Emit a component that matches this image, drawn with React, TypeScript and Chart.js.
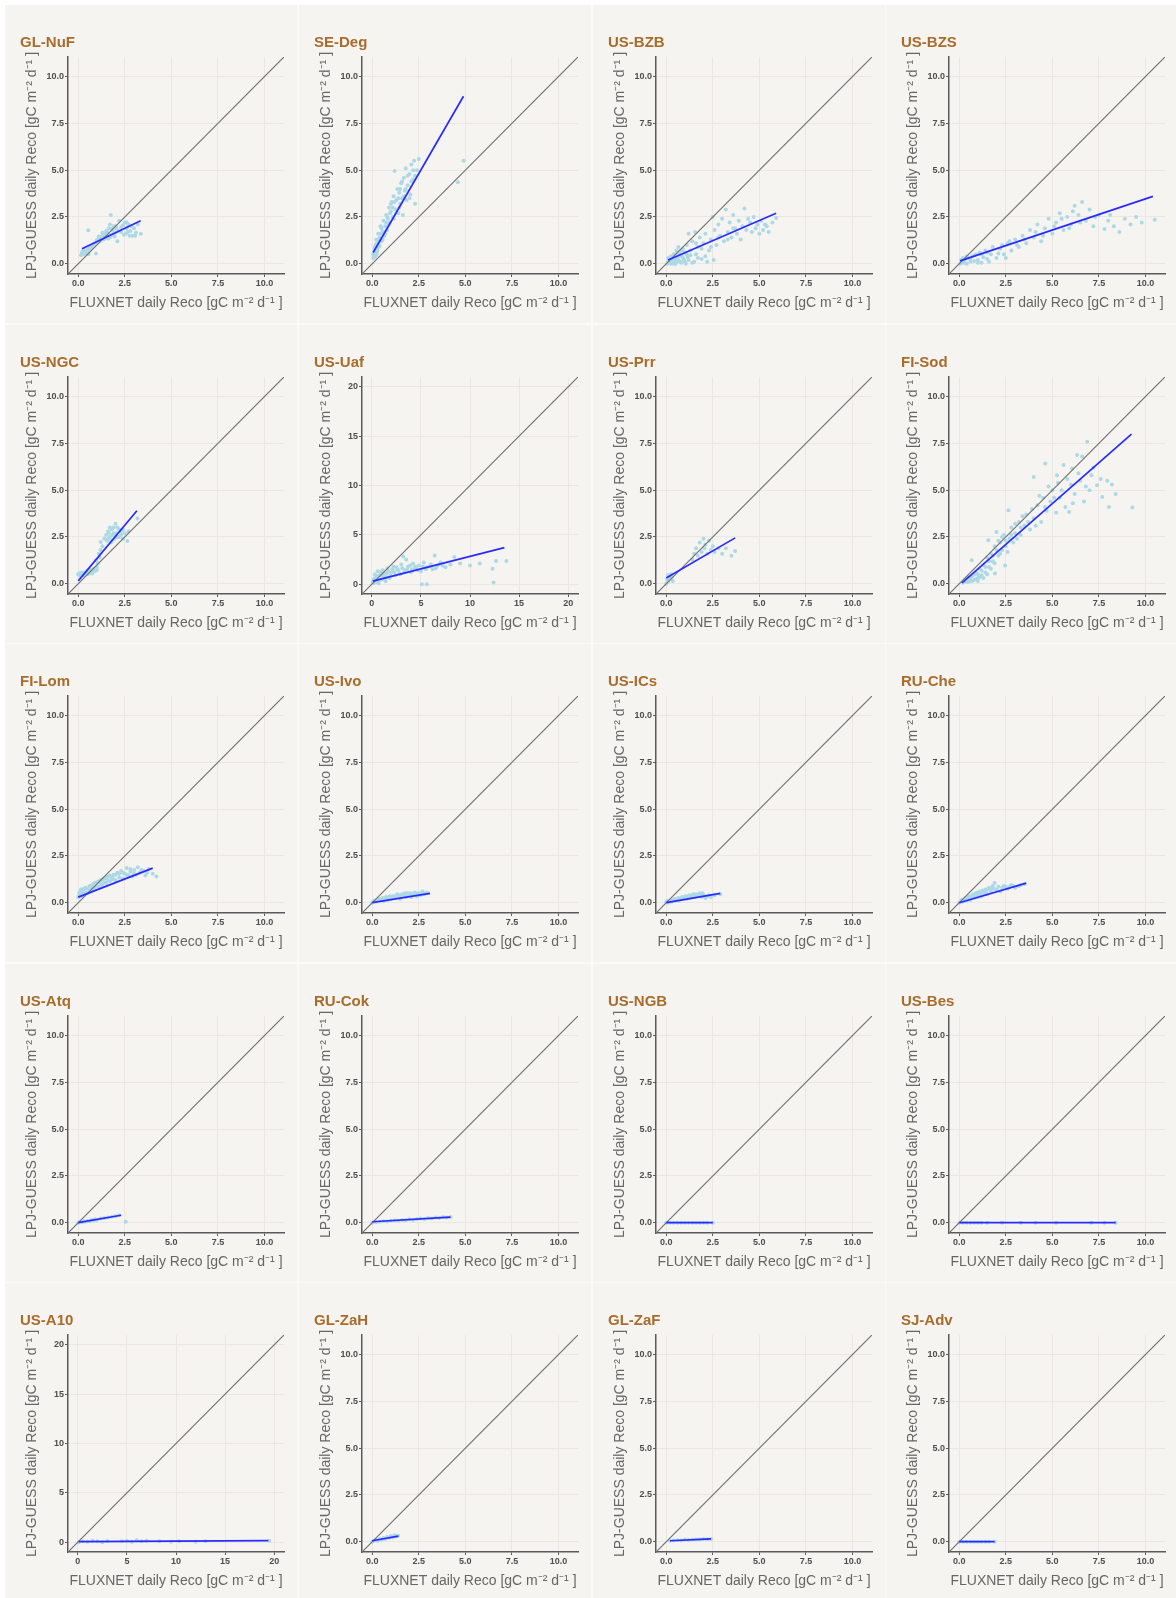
import React, { useEffect, useRef } from "react";
import { Chart, registerables } from "chart.js";

Chart.register(...registerables);

// ---------- data ----------
const SITES = [
  "GL-NuF", "SE-Deg", "US-BZB", "US-BZS",
  "US-NGC", "US-Uaf", "US-Prr", "FI-Sod",
  "FI-Lom", "US-Ivo", "US-ICs", "RU-Che",
  "US-Atq", "RU-Cok", "US-NGB", "US-Bes",
  "US-A10", "GL-ZaH", "GL-ZaF", "SJ-Adv",
];

// sites plotted on the 0-20 scale
const WIDE_SITES = ["US-Uaf", "US-A10"];

const TICKS_10 = [0, 2.5, 5, 7.5, 10];
const TICKS_20 = [0, 5, 10, 15, 20];
const AXIS_10 = [-0.55, 11.05];
const AXIS_20 = [-1.0, 21.0];

// [FLUXNET, LPJ-GUESS] daily Reco pairs
const GL_NuF = [[0.15,0.45],[0.2,0.55],[0.25,0.5],[0.3,0.62],[0.35,0.58],[0.4,0.7],[0.45,0.6],[0.5,0.75],[0.54,1.79],[0.6,0.85],[0.7,0.9],[0.8,1.0],[0.9,1.1],[0.95,0.54],[1.0,1.25],[1.1,1.35],[1.15,1.2],[1.2,1.4],[1.3,1.5],[1.35,1.3],[1.4,1.6],[1.5,1.45],[1.55,1.7],[1.6,1.35],[1.65,1.9],[1.7,2.1],[1.75,2.6],[1.8,1.55],[1.85,1.8],[1.9,2.0],[1.95,1.45],[2.0,1.65],[2.05,1.9],[2.1,1.2],[2.2,2.3],[2.3,1.7],[2.4,2.05],[2.5,2.2],[2.55,1.6],[2.6,1.9],[2.7,2.1],[2.75,1.5],[2.8,1.75],[2.9,1.5],[3.0,1.9],[3.1,1.65],[3.2,2.1],[3.36,1.6],
  [0.2,0.6],[0.25,0.65],[0.3,0.5],[0.35,0.7],[0.45,0.55],[0.5,0.65],[0.55,0.5],[0.65,0.8],[0.75,0.95],[0.85,1.05],[1.05,1.15],[1.1,1.45],[1.25,1.3],[1.3,1.65],[1.45,1.35],[1.5,1.75],[1.6,1.55],[1.7,1.4],[1.8,1.85],[1.9,1.6],[2.0,2.0],[2.15,1.75],[2.3,1.95],[2.45,1.55],[2.6,2.2],[2.65,1.7],[2.85,2.0],[3.05,1.5]];
const SE_Deg = [[0.05,0.3],[0.08,0.45],[0.1,0.6],[0.12,0.8],[0.15,0.4],[0.18,1.0],[0.2,0.7],[0.22,1.3],[0.25,0.55],[0.3,1.1],[0.32,1.6],[0.35,0.9],[0.4,1.4],[0.45,2.0],[0.5,1.2],[0.55,1.7],[0.6,2.3],[0.65,1.5],[0.7,2.0],[0.75,2.6],[0.8,1.8],[0.85,2.4],[0.9,3.0],[0.95,2.2],[1.0,2.8],[1.05,3.3],[1.1,2.5],[1.15,3.6],[1.2,4.96],[1.25,2.9],[1.3,3.4],[1.35,4.0],[1.4,2.7],[1.45,3.8],[1.5,3.2],[1.55,4.3],[1.6,3.5],[1.65,2.6],[1.7,4.6],[1.75,3.9],[1.8,5.1],[1.85,3.4],[1.9,4.2],[2.0,4.8],[2.05,3.7],[2.1,5.3],[2.2,4.5],[2.3,3.2],[2.4,5.0],[2.5,5.6],[2.25,5.5],[4.6,4.35],[4.9,5.5],
  [0.05,0.5],[0.1,0.35],[0.12,0.5],[0.15,0.9],[0.2,0.45],[0.25,1.1],[0.28,0.7],[0.35,1.3],[0.4,0.95],[0.45,1.6],[0.5,1.9],[0.55,1.3],[0.6,1.7],[0.7,1.6],[0.75,2.2],[0.8,2.5],[0.9,2.1],[0.95,2.7],[1.0,3.2],[1.1,3.0],[1.15,2.4],[1.2,3.3],[1.3,2.7],[1.4,3.5],[1.45,3.0],[1.5,4.0],[1.6,4.4],[1.7,3.6],[1.8,4.0],[1.9,4.7],[2.0,3.5],[2.1,4.4],[2.2,5.0],[2.3,4.7]];
const US_BZB = [[0.05,0.0],[0.1,0.1],[0.15,0.05],[0.2,0.2],[0.25,0.0],[0.3,0.3],[0.35,0.1],[0.4,0.5],[0.45,0.2],[0.5,0.0],[0.55,0.7],[0.6,0.3],[0.65,0.9],[0.7,0.15],[0.75,0.5],[0.8,0.05],[0.85,0.4],[0.9,0.8],[0.95,0.2],[1.0,0.6],[1.05,0.0],[1.1,1.0],[1.15,0.35],[1.2,1.6],[1.3,0.7],[1.4,1.2],[1.5,0.1],[1.55,1.7],[1.6,0.5],[1.7,0.9],[1.8,1.4],[1.9,0.25],[2.0,1.1],[2.1,1.6],[2.2,0.1],[2.3,0.7],[2.4,1.3],[2.5,2.5],[2.55,0.2],[2.6,1.8],[2.7,1.0],[2.8,2.1],[2.9,1.5],[3.0,2.4],[3.1,1.2],[3.2,2.9],[3.3,1.7],[3.4,2.2],[3.5,1.4],[3.6,2.6],[3.7,1.9],[3.8,1.6],[3.9,2.3],[4.0,1.3],[4.2,2.95],[4.3,1.8],[4.5,2.2],[4.6,1.7],[4.7,2.5],[4.8,1.9],[4.9,2.1],[5.0,1.6],[5.1,2.3],[5.2,1.8],[5.4,2.0],[5.5,1.7],[5.7,2.2],[5.9,2.45],
  [0.1,0.3],[0.2,0.05],[0.25,0.4],[0.3,0.1],[0.35,0.25],[0.4,0.0],[0.45,0.45],[0.5,0.2],[0.55,0.1],[0.6,0.6],[0.7,0.4],[0.75,0.1],[0.8,0.7],[0.9,0.3],[1.0,0.1],[1.1,0.5],[1.2,0.2],[1.3,0.45],[1.4,0.05],[1.6,1.1],[1.7,0.3],[1.9,0.8],[2.1,0.4],[2.4,0.9],[2.8,1.4],[3.3,1.3],[3.6,1.9],[4.1,2.0],[4.4,2.4],[5.3,2.1]];
const US_BZS = [[0.05,0.0],[0.1,0.1],[0.2,0.05],[0.3,0.2],[0.4,0.0],[0.5,0.3],[0.6,0.1],[0.7,0.4],[0.8,0.15],[0.9,0.5],[1.0,0.2],[1.1,0.6],[1.2,0.05],[1.3,0.35],[1.4,0.7],[1.5,0.25],[1.7,0.5],[1.8,0.9],[2.0,0.3],[2.2,0.8],[2.4,0.5],[2.6,1.1],[2.8,0.7],[3.0,1.3],[3.2,0.9],[3.4,1.5],[3.6,1.1],[3.8,1.8],[4.0,1.4],[4.2,2.1],[4.4,1.2],[4.6,1.9],[4.8,2.4],[5.0,1.6],[5.2,2.2],[5.4,2.7],[5.6,1.8],[5.8,2.5],[6.0,2.1],[6.2,3.1],[6.4,2.6],[6.6,3.3],[6.8,2.3],[7.0,2.9],[7.2,2.0],[7.5,2.6],[7.8,1.85],[8.0,2.3],[8.3,2.0],[8.6,1.7],[8.9,2.4],[9.2,2.1],[9.5,2.5],[10.5,2.35],
  [0.1,0.2],[0.2,0.3],[0.3,0.05],[0.4,0.4],[0.6,0.25],[0.8,0.45],[1.0,0.05],[1.2,0.5],[1.5,0.6],[1.6,0.1],[2.1,0.55],[2.3,1.0],[2.5,0.3],[2.7,1.2],[3.1,1.0],[3.5,1.3],[4.1,1.7],[4.5,1.5],[5.1,2.0],[5.5,2.4],[5.9,1.9],[6.1,2.8],[6.5,2.2],[7.3,2.5],[8.1,2.6],[9.8,2.2]];
const US_NGC = [[0.0,0.5],[0.05,0.45],[0.1,0.55],[0.15,0.4],[0.2,0.6],[0.25,0.5],[0.3,0.55],[0.4,0.6],[0.5,0.5],[0.55,0.65],[0.6,0.6],[0.7,0.7],[0.75,0.55],[0.8,0.75],[0.85,0.65],[0.9,0.8],[0.95,0.7],[1.0,0.9],[0.95,1.25],[1.05,1.1],[1.1,1.6],[1.15,1.4],[1.2,1.8],[1.21,2.23],[1.3,2.0],[1.4,2.4],[1.5,2.6],[1.55,2.3],[1.6,2.8],[1.7,2.5],[1.75,2.2],[1.8,2.9],[1.85,2.6],[1.9,3.0],[1.95,2.4],[2.0,3.2],[2.05,2.7],[2.1,2.5],[2.2,2.9],[2.3,2.6],[2.4,2.4],[2.5,2.7],[2.64,2.28],[2.7,2.8],[3.18,3.48],
  [0.05,0.55],[0.1,0.45],[0.2,0.5],[0.3,0.45],[0.35,0.6],[0.45,0.55],[0.5,0.7],[0.6,0.55],[0.65,0.75],[0.7,0.6],[0.8,0.65],[0.85,0.8],[0.9,0.7],[1.0,0.75],[1.6,2.4],[1.65,2.7],[1.7,3.0],[1.8,2.3],[1.9,2.7],[2.0,2.5],[2.1,3.0],[2.2,2.5],[2.3,2.8],[2.4,2.9]];
const US_Uaf = [[0.1,0.2],[0.2,0.5],[0.3,1.0],[0.4,0.3],[0.5,0.7],[0.6,1.3],[0.7,0.1],[0.8,0.9],[1.0,0.5],[1.1,1.4],[1.2,0.8],[1.4,0.3],[1.5,1.1],[1.6,1.6],[1.8,0.6],[2.0,1.2],[2.2,1.8],[2.4,0.9],[2.6,1.5],[2.8,1.1],[3.0,2.0],[3.2,2.8],[3.4,1.4],[3.5,2.5],[3.7,1.8],[4.0,1.2],[4.2,2.1],[4.5,1.6],[4.8,1.9],[5.0,1.3],[5.1,0.0],[5.3,2.2],[5.6,0.0],[5.6,1.7],[6.0,2.0],[6.2,1.5],[6.4,2.9],[6.7,1.9],[7.0,2.2],[7.5,1.7],[8.0,2.0],[8.4,2.75],[9.0,2.1],[10.0,1.9],[11.0,2.1],[12.3,1.55],[12.4,0.17],[12.65,2.35],[13.7,2.35],
  [0.2,0.1],[0.3,0.6],[0.5,0.2],[0.6,0.8],[0.8,0.4],[0.9,1.2],[1.0,0.9],[1.2,1.1],[1.3,0.5],[1.5,0.7],[1.7,1.3],[1.9,0.9],[2.1,1.5],[2.3,1.2],[2.5,1.7],[2.7,1.4],[2.9,1.0],[3.1,1.6],[3.3,1.2],[3.6,1.5],[3.9,1.9],[4.1,1.5],[4.4,1.8],[4.7,1.4],[5.2,1.8],[5.5,1.5],[5.9,1.8],[6.5,1.6],[7.2,1.9]];
const US_Prr = [[0.0,0.0],[0.05,0.2],[0.1,0.1],[0.15,0.4],[0.2,0.25],[0.25,0.5],[0.3,0.35],[0.1,0.45],[0.35,0.15],[1.4,1.3],[1.5,1.6],[1.6,1.9],[1.7,1.5],[1.8,2.2],[1.9,1.7],[2.0,2.4],[2.05,1.9],[2.1,2.1],[2.2,1.6],[2.3,2.3],[2.4,1.8],[2.5,2.0],[2.6,1.7],[2.8,1.9],[3.0,1.6],[3.2,1.9],[3.5,1.5],[3.7,1.75]];
const FI_Sod = [[0.2,0.05],[0.3,0.2],[0.4,0.1],[0.5,0.35],[0.6,0.15],[0.67,1.25],[0.7,0.4],[0.8,0.2],[0.9,0.6],[1.0,0.3],[1.1,0.8],[1.2,0.45],[1.3,1.0],[1.4,0.6],[1.5,1.4],[1.56,2.32],[1.6,0.9],[1.7,1.6],[1.8,1.2],[1.9,2.0],[1.92,0.54],[2.0,2.77],[2.1,1.5],[2.2,2.2],[2.3,1.8],[2.4,2.6],[2.46,0.98],[2.5,2.0],[2.64,3.93],[2.7,2.4],[2.8,3.0],[2.9,2.2],[3.0,2.7],[3.2,3.3],[3.3,2.6],[3.5,3.1],[3.6,3.7],[3.8,2.9],[4.0,5.7],[4.0,3.5],[4.2,4.2],[4.4,3.3],[4.5,4.6],[4.62,6.43],[4.7,3.9],[4.9,4.4],[5.0,5.0],[5.2,3.8],[5.25,5.8],[5.4,4.6],[5.6,6.34],[5.7,4.1],[5.9,3.84],[6.0,5.3],[6.06,6.16],[6.2,4.8],[6.33,6.88],[6.5,5.5],[6.6,6.8],[6.7,4.4],[6.87,7.59],[7.0,5.0],[7.2,6.2],[7.4,5.27],[7.68,4.64],[7.95,5.5],[8.04,4.1],[8.4,4.8],[9.3,4.07],
  [0.3,0.1],[0.4,0.3],[0.5,0.1],[0.6,0.3],[0.7,0.15],[0.8,0.5],[0.9,0.25],[1.0,0.5],[1.0,0.15],[1.1,0.35],[1.2,0.7],[1.3,0.3],[1.4,0.9],[1.5,0.5],[1.6,1.2],[1.7,0.8],[1.8,1.5],[1.9,1.1],[2.0,1.8],[2.1,2.3],[2.2,1.6],[2.3,2.5],[2.5,2.3],[2.6,1.7],[2.8,2.6],[3.0,3.2],[3.1,2.4],[3.3,3.0],[3.4,3.6],[3.7,3.3],[3.9,4.0],[4.1,3.1],[4.3,4.7],[4.6,4.1],[4.8,5.2],[5.1,4.6],[5.3,5.4],[5.5,5.0],[5.8,5.6],[6.1,4.3],[6.4,5.9],[6.8,5.2],[7.1,5.8],[7.6,5.6],[8.2,5.3]];
const FI_Lom = [[0.0,0.3],[0.05,0.5],[0.1,0.4],[0.15,0.7],[0.2,0.35],[0.3,0.6],[0.4,0.8],[0.5,0.5],[0.6,0.9],[0.7,0.7],[0.8,1.0],[0.9,0.75],[1.0,1.1],[1.1,0.85],[1.2,1.2],[1.3,0.95],[1.4,1.3],[1.5,1.05],[1.6,1.4],[1.7,1.15],[1.8,1.25],[1.9,1.5],[2.0,1.2],[2.1,1.6],[2.2,1.35],[2.3,1.7],[2.4,1.3],[2.5,1.55],[2.6,1.85],[2.7,1.45],[2.8,1.65],[2.9,1.4],[3.0,1.75],[3.1,1.5],[3.2,1.9],[3.3,1.6],[3.5,1.7],[3.6,1.45],[3.8,1.8],[4.0,1.55],[4.2,1.4],
  [0.05,0.35],[0.1,0.6],[0.2,0.5],[0.25,0.45],[0.3,0.75],[0.4,0.55],[0.5,0.75],[0.6,0.65],[0.7,0.9],[0.8,0.8],[0.9,1.05],[1.0,0.9],[1.1,1.15],[1.2,1.0],[1.3,1.25],[1.4,1.1],[1.5,1.35],[1.6,1.2],[1.7,1.45],[1.8,1.4],[1.9,1.25],[2.0,1.5],[2.2,1.55],[2.4,1.6],[2.6,1.5],[2.8,1.8],[3.0,1.55],[3.4,1.75],[3.7,1.6]];
const US_Ivo = [[0.0,0.0],[0.1,0.1],[0.2,0.05],[0.3,0.15],[0.4,0.1],[0.5,0.2],[0.6,0.08],[0.7,0.25],[0.8,0.15],[0.9,0.3],[1.0,0.2],[1.1,0.35],[1.2,0.25],[1.3,0.4],[1.4,0.3],[1.5,0.2],[1.6,0.45],[1.7,0.35],[1.8,0.3],[1.9,0.5],[2.0,0.4],[2.1,0.3],[2.2,0.45],[2.3,0.55],[2.4,0.35],[2.5,0.5],[2.6,0.4],[2.7,0.6],[2.8,0.45],[3.0,0.5],
  [0.05,0.05],[0.15,0.12],[0.25,0.1],[0.35,0.2],[0.45,0.15],[0.55,0.25],[0.65,0.2],[0.75,0.3],[0.85,0.25],[0.95,0.35],[1.05,0.3],[1.15,0.25],[1.25,0.35],[1.35,0.45],[1.45,0.4],[1.55,0.35],[1.65,0.4],[1.75,0.5],[1.85,0.4],[1.95,0.45],[2.05,0.5],[2.15,0.4],[2.25,0.5],[2.45,0.45],[2.65,0.5],[2.9,0.55]];
const US_ICs = [[0.0,0.05],[0.1,0.0],[0.2,0.1],[0.3,0.05],[0.4,0.15],[0.5,0.1],[0.6,0.2],[0.7,0.12],[0.8,0.25],[0.9,0.18],[1.0,0.3],[1.1,0.2],[1.2,0.35],[1.3,0.25],[1.4,0.4],[1.5,0.3],[1.6,0.45],[1.7,0.35],[1.8,0.5],[1.9,0.3],[2.0,0.4],[2.1,0.25],[2.2,0.35],[2.4,0.3],[2.6,0.4],[2.9,0.45],
  [0.05,0.1],[0.15,0.05],[0.25,0.15],[0.35,0.1],[0.45,0.2],[0.55,0.15],[0.65,0.25],[0.75,0.2],[0.85,0.3],[0.95,0.25],[1.05,0.35],[1.15,0.3],[1.25,0.4],[1.35,0.3],[1.45,0.45],[1.55,0.35],[1.65,0.4],[1.75,0.45],[1.85,0.4],[1.95,0.5],[2.05,0.35],[2.3,0.4]];
const RU_Che = [[0.0,0.0],[0.1,0.1],[0.2,0.05],[0.3,0.2],[0.4,0.1],[0.5,0.3],[0.6,0.15],[0.7,0.4],[0.8,0.25],[0.9,0.5],[1.0,0.3],[1.1,0.6],[1.2,0.35],[1.3,0.55],[1.4,0.7],[1.5,0.45],[1.6,0.8],[1.7,0.6],[1.8,0.9],[1.9,1.05],[2.0,0.7],[2.1,0.85],[2.2,0.6],[2.4,0.9],[2.6,0.75],[2.8,0.95],[3.0,0.8],[3.2,0.9],[3.5,1.0],
  [0.05,0.05],[0.15,0.15],[0.25,0.1],[0.35,0.25],[0.45,0.2],[0.55,0.35],[0.65,0.3],[0.75,0.45],[0.85,0.4],[0.95,0.55],[1.05,0.45],[1.15,0.5],[1.25,0.65],[1.35,0.5],[1.45,0.6],[1.55,0.75],[1.65,0.7],[1.75,0.8],[1.85,0.75],[2.3,0.8],[2.5,0.85],[2.7,0.85],[2.9,0.9],[3.3,0.95]];
const US_Atq = [[0.0,0.0],[0.1,0.05],[0.2,0.02],[0.3,0.08],[0.4,0.05],[0.5,0.1],[0.6,0.08],[0.7,0.15],[0.8,0.12],[0.9,0.18],[1.0,0.15],[1.2,0.22],[1.4,0.25],[1.6,0.28],[1.8,0.32],[2.0,0.35],[2.2,0.4],[2.55,0.05]];
const RU_Cok = [[0.0,0.0],[0.2,0.03],[0.4,0.05],[0.6,0.08],[0.8,0.06],[1.0,0.1],[1.2,0.12],[1.4,0.1],[1.6,0.15],[1.8,0.13],[2.0,0.18],[2.2,0.15],[2.4,0.2],[2.6,0.22],[2.8,0.2],[3.0,0.25],[3.2,0.22],[3.4,0.28],[3.6,0.25],[3.8,0.3],[4.0,0.28],[4.2,0.3]];
const US_NGB = [[0.0,0],[0.2,0],[0.4,0],[0.6,0],[0.8,0],[1.0,0],[1.2,0],[1.4,0],[1.6,0],[1.8,0],[2.0,0],[2.2,0],[2.5,0]];
const US_Bes = [[0.0,0],[0.2,0],[0.4,0],[0.6,0],[0.8,0],[1.0,0],[1.2,0],[1.5,0],[2.3,0],[3.3,0],[4.1,0],[5.2,0],[7.1,0],[7.8,0],[8.4,0]];
const US_A10 = [[0.1,0.0],[0.5,0.1],[1.0,0.05],[1.5,0.15],[2.0,0.1],[2.5,0.0],[3.0,0.12],[4.5,0.1],[5.0,0.15],[5.5,0.05],[6.0,0.2],[6.5,0.1],[7.0,0.15],[8.3,0.1],[9.5,0.05],[10.3,0.1],[12.0,0.05],[13.0,0.1],[19.5,0.15]];
const GL_ZaH = [[0.0,0.0],[0.1,0.05],[0.2,0.1],[0.3,0.05],[0.4,0.15],[0.5,0.1],[0.6,0.2],[0.7,0.15],[0.8,0.25],[0.9,0.2],[1.0,0.3],[1.1,0.22],[1.2,0.35],[1.3,0.28],[1.4,0.32]];
const GL_ZaF = [[0.2,0.05],[0.4,0.06],[0.6,0.08],[0.8,0.07],[1.0,0.1],[1.2,0.09],[1.4,0.11],[1.6,0.12],[1.8,0.12],[2.0,0.14],[2.2,0.13],[2.4,0.15]];
const SJ_Adv = [[0.0,0],[0.2,0],[0.4,0],[0.6,0],[0.8,0],[1.0,0],[1.2,0],[1.4,0],[1.6,0],[1.9,0]];

const SITE_POINTS = [
  GL_NuF, SE_Deg, US_BZB, US_BZS,
  US_NGC, US_Uaf, US_Prr, FI_Sod,
  FI_Lom, US_Ivo, US_ICs, RU_Che,
  US_Atq, RU_Cok, US_NGB, US_Bes,
  US_A10, GL_ZaH, GL_ZaF, SJ_Adv,
];

// linear fit segment per site: [x0, y0, x1, y1]
const FIT_LINES = [
  [0.2, 0.8, 3.35, 2.3], [0.05, 0.6, 4.9, 8.95], [0.1, 0.2, 5.9, 2.7], [0.05, 0.15, 10.4, 3.6],
  [0.0, 0.15, 3.15, 3.9], [0.1, 0.3, 13.5, 3.7], [0.0, 0.3, 3.7, 2.45], [0.15, 0.05, 9.25, 8.0],
  [0.0, 0.3, 4.0, 1.85], [0.0, 0.0, 3.1, 0.5], [0.0, 0.0, 2.9, 0.5], [0.0, 0.0, 3.6, 1.05],
  [0.0, 0.0, 2.3, 0.4], [0.0, 0.05, 4.2, 0.3], [0.0, 0.0, 2.5, 0.0], [0.0, 0.0, 8.4, 0.0],
  [0.1, 0.05, 19.4, 0.15], [0.0, 0.05, 1.4, 0.3], [0.2, 0.05, 2.4, 0.15], [0.0, 0.0, 1.9, 0.0],
];

const X_TITLE = "FLUXNET daily Reco [gC m\u207B\u00B2 d\u207B\u00B9 ]";
const Y_TITLE = "LPJ-GUESS daily Reco [gC m\u207B\u00B2 d\u207B\u00B9 ]";

// ---------- layout/style ----------
const FONT = "'Liberation Sans', Arial, Helvetica, sans-serif";
const CELL_W = 292;
const CELL_H = 318;
const PITCH_X = 293.8;
const PITCH_Y = 319.5;
const OFFSET = 5;
const PANEL_BG = "#f6f4f0";

function Panel({ index }: { index: number }) {
  const ref = useRef<HTMLCanvasElement | null>(null);
  const site = SITES[index];
  const col = index % 4;
  const row = Math.floor(index / 4);
  const left = Math.round(OFFSET + col * PITCH_X);
  const top = Math.round(OFFSET + row * PITCH_Y);

  useEffect(() => {
    if (!ref.current) return;
    const wide = WIDE_SITES.includes(site);
    const range = wide ? AXIS_20 : AXIS_10;
    const ticks = wide ? TICKS_20 : TICKS_10;
    const fmt = (v: number) => (wide ? String(v) : v.toFixed(1));
    const fit = FIT_LINES[index];
    const pts = SITE_POINTS[index];

    const axisColor = "#5a5a5a";
    const gridColor = "#ebe8e3";
    const tickFont = { family: FONT, size: 9, weight: "bold" as const };
    const titleFont = { family: FONT, size: 14 };

    const chart = new Chart(ref.current, {
      type: "scatter",
      data: {
        datasets: [
          {
            data: pts.map(([x, y]) => ({ x, y })),
            backgroundColor: "#add8e6",
            borderWidth: 0,
            pointRadius: 2,
            order: 2,
          },
          {
            data: [
              { x: range[0], y: range[0] },
              { x: range[1], y: range[1] },
            ],
            showLine: true,
            borderColor: "#737373",
            borderWidth: 1.2,
            pointRadius: 0,
            order: 1,
          },
          {
            data: [
              { x: fit[0], y: fit[1] },
              { x: fit[2], y: fit[3] },
            ],
            showLine: true,
            borderColor: "#2a2aff",
            borderWidth: 1.7,
            pointRadius: 0,
            order: 0,
          },
        ],
      },
      options: {
        animation: false,
        responsive: false,
        events: [],
        layout: { padding: { left: 15, right: 13, top: 0, bottom: 11 } },
        plugins: {
          legend: { display: false },
          tooltip: { enabled: false },
          title: {
            display: true,
            text: site,
            align: "start",
            color: "#a86c2c",
            font: { family: FONT, size: 15, weight: "bold" },
            padding: { top: 29, bottom: 5 },
          },
        },
        scales: {
          x: {
            type: "linear",
            min: range[0],
            max: range[1],
            afterBuildTicks: (s: any) => {
              s.ticks = ticks.map((v) => ({ value: v }));
            },
            afterFit: (s: any) => {
              s.height = 38;
            },
            ticks: {
              callback: (v: any) => fmt(Number(v)),
              font: tickFont,
              color: "#4d4d4d",
              padding: 1,
              maxRotation: 0,
              autoSkip: false,
            },
            grid: { color: gridColor, lineWidth: 1, tickColor: axisColor, tickLength: 3, drawTicks: true },
            border: { display: true, color: axisColor, width: 1.5 },
            title: {
              display: true,
              text: X_TITLE,
              color: "#666666",
              font: titleFont,
              padding: { top: 0, bottom: 0 },
            },
          },
          y: {
            type: "linear",
            min: range[0],
            max: range[1],
            afterBuildTicks: (s: any) => {
              s.ticks = ticks.map((v) => ({ value: v }));
            },
            afterFit: (s: any) => {
              s.width = 48;
            },
            ticks: {
              callback: (v: any) => fmt(Number(v)),
              font: tickFont,
              color: "#4d4d4d",
              padding: 1,
              autoSkip: false,
            },
            grid: { color: gridColor, lineWidth: 1, tickColor: axisColor, tickLength: 3, drawTicks: true },
            border: { display: true, color: axisColor, width: 1.5 },
            title: {
              display: true,
              text: Y_TITLE,
              color: "#666666",
              font: titleFont,
              padding: { top: 4, bottom: 0 },
            },
          },
        },
      },
    } as any);
    return () => chart.destroy();
  }, [index, site]);

  return (
    <div
      style={{
        position: "absolute",
        left,
        top,
        width: CELL_W,
        height: CELL_H,
        background: PANEL_BG,
      }}
    >
      <canvas ref={ref} width={CELL_W} height={CELL_H} style={{ display: "block", width: CELL_W, height: CELL_H }} />
    </div>
  );
}

export default function App() {
  return (
    <div
      style={{
        position: "absolute",
        left: 0,
        top: 0,
        width: 1176,
        height: 1598,
        overflow: "hidden",
        background: "#ffffff",
      }}
    >
      <div
        style={{
          position: "absolute",
          left: OFFSET,
          top: OFFSET,
          width: 1176 - OFFSET,
          height: 1598 - OFFSET,
          background: "#fbfaf8",
        }}
      />
      {SITES.map((s, i) => (
        <Panel key={s} index={i} />
      ))}
    </div>
  );
}
